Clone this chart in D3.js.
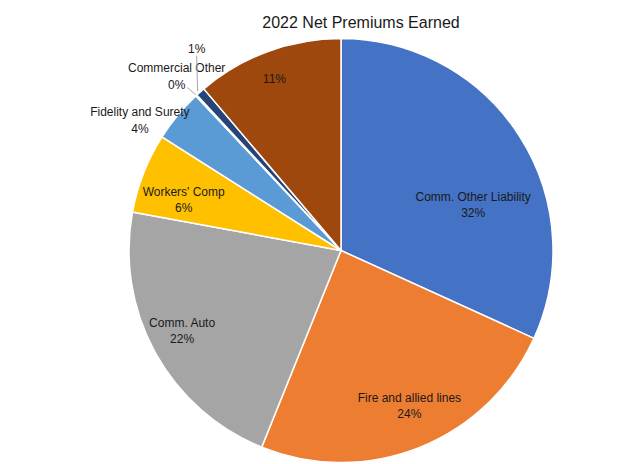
<!DOCTYPE html>
<html>
<head>
<meta charset="utf-8">
<script src="https://cdn.jsdelivr.net/npm/d3@7"></script>
<style>
  body { margin: 0; background: #fff; }
  text { font-family: "Liberation Sans", Arial, sans-serif; }
</style>
</head>
<body>
<div id="chart"></div>
<script>
// data
var categories = ["Comm. Other Liability", "Fire and allied lines", "Comm. Auto", "Workers' Comp",
                  "Fidelity and Surety", "Commercial Other", "", ""];
var values = [31.8, 24.3, 21.8, 6.1, 4.0, 0.1, 0.7, 11.2];
var colors = ["#4472C4", "#ED7D31", "#A5A5A5", "#FFC000", "#5B9BD5", "#70AD47", "#264478", "#9E480E"];

// label placement: radius as share of pie radius, angle nudge in degrees, leader line side
var labelR = [0.66, 0.80, 0.84, 0.78, 1.13, 1.13, 1.17, 0.87];
var labelNudge = [13.6, -2, 2, -3.5, -6.7, -0.3, 6, -1];
var leader = [null, null, null, null, null, "right", "below", null];

var width = 640, height = 464;
var cx = 341, cy = 250.5, R = 212;

var svg = d3.select("#chart").append("svg")
    .attr("width", width)
    .attr("height", height);

svg.append("text")
    .attr("x", 361)
    .attr("y", 28)
    .attr("text-anchor", "middle")
    .attr("font-size", 16)
    .attr("fill", "#1a1a1a")
    .text("2022 Net Premiums Earned");

var data = categories.map((c, i) => ({ name: c, value: values[i], color: colors[i], i: i }));
var total = d3.sum(values);

var pie = d3.pie().sort(null).value(d => d.value);
var arc = d3.arc().innerRadius(0).outerRadius(R);

var g = svg.append("g").attr("transform", "translate(" + cx + "," + cy + ")");

var arcs = pie(data);

g.selectAll("path")
    .data(arcs)
    .join("path")
    .attr("d", arc)
    .attr("fill", d => d.data.color)
    .attr("stroke", "#fff")
    .attr("stroke-width", 1.5);

arcs.forEach(function (d) {
    var i = d.data.i;
    var mid = (d.startAngle + d.endAngle) / 2 + labelNudge[i] * Math.PI / 180;
    var r = labelR[i] * R;
    var x = Math.sin(mid) * r, y = -Math.cos(mid) * r;
    var pct = Math.round(d.data.value / total * 100) + "%";
    var lines = d.data.name ? [d.data.name, pct] : [pct];
    var lh = 16.5;
    var y0 = y - (lines.length - 1) * lh / 2;
    var t = g.append("text")
        .attr("text-anchor", "middle")
        .attr("font-size", 12)
        .attr("fill", "#1a1a1a");
    lines.forEach(function (s, k) {
        t.append("tspan")
            .attr("x", x)
            .attr("y", y0 + k * lh)
            .attr("dy", "0.35em")
            .text(s);
    });

    if (leader[i]) {
        var edgeMid = (d.startAngle + d.endAngle) / 2;
        var ex = Math.sin(edgeMid) * (R + 1), ey = -Math.cos(edgeMid) * (R + 1);
        var lastY = y0 + (lines.length - 1) * lh;
        var sx, sy;
        if (leader[i] === "right") {
            var w = t.select("tspan:last-child").node().getComputedTextLength();
            sx = x + w / 2 + 2; sy = lastY + 3;
        } else {
            sx = x; sy = lastY + 7;
            ex = sx + (ex - sx) * 0.3;
        }
        g.append("polyline")
            .attr("points", [[sx, sy], [ex, ey]].map(p => p.join(",")).join(" "))
            .attr("fill", "none")
            .attr("stroke", "#A6A6A6")
            .attr("stroke-width", 1);
    }
});
</script>
</body>
</html>
